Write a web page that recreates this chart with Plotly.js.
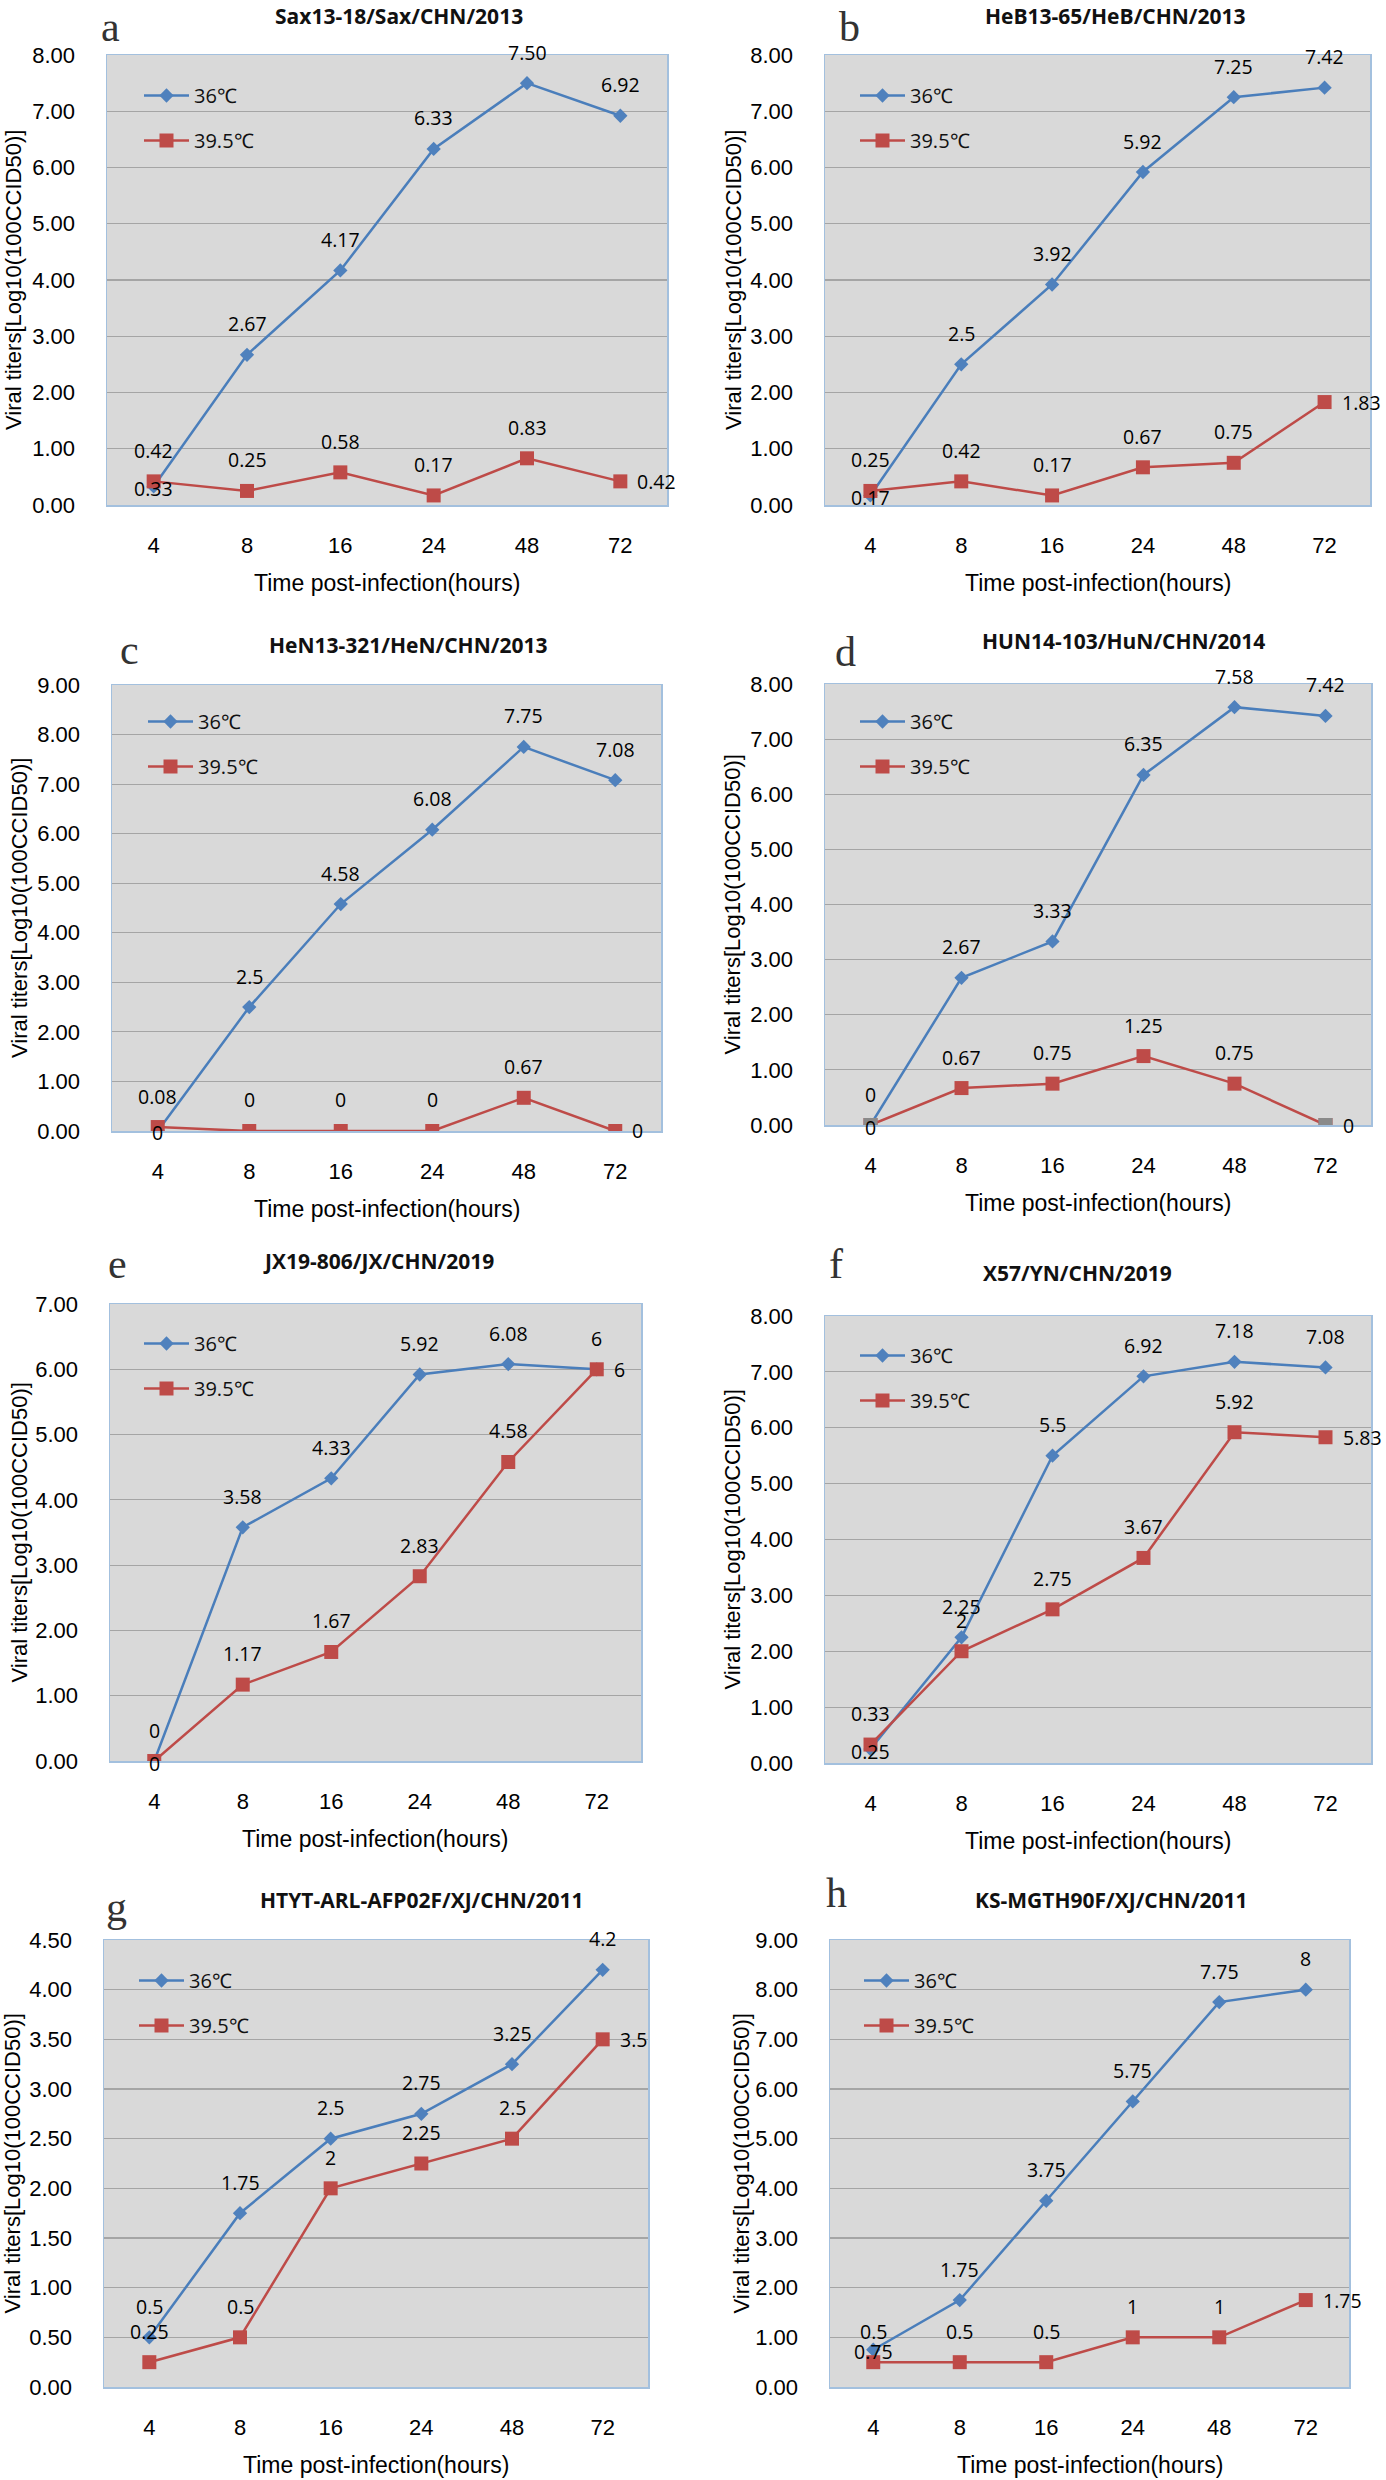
<!DOCTYPE html>
<html><head><meta charset="utf-8">
<script src="https://cdn.plot.ly/plotly-3.0.1.min.js"></script>
<style>html,body{margin:0;padding:0;background:#fff}#chart{width:1386px;height:2480px}</style>
</head><body><div id="chart"></div>
<script>
// ---------- data ----------
const hours = ['4','8','16','24','48','72'];
const seriesNames = ['36℃','39.5℃'];
const strainNames = ['Sax13-18/Sax/CHN/2013','HeB13-65/HeB/CHN/2013','HeN13-321/HeN/CHN/2013','HUN14-103/HuN/CHN/2014',
  'JX19-806/JX/CHN/2019','X57/YN/CHN/2019','HTYT-ARL-AFP02F/XJ/CHN/2011','KS-MGTH90F/XJ/CHN/2011'];
const panelLetters = ['a','b','c','d','e','f','g','h'];
const xTitle = 'Time post-infection(hours)';
const yTitle = 'Viral titers[Log10(100CCID50)]';

const a36  = [0.33, 2.67, 4.17, 6.33, 7.50, 6.92];
const a395 = [0.42, 0.25, 0.58, 0.17, 0.83, 0.42];
const b36  = [0.17, 2.5, 3.92, 5.92, 7.25, 7.42];
const b395 = [0.25, 0.42, 0.17, 0.67, 0.75, 1.83];
const c36  = [0, 2.5, 4.58, 6.08, 7.75, 7.08];
const c395 = [0.08, 0, 0, 0, 0.67, 0];
const d36  = [0, 2.67, 3.33, 6.35, 7.58, 7.42];
const d395 = [0, 0.67, 0.75, 1.25, 0.75, 0];
const e36  = [0, 3.58, 4.33, 5.92, 6.08, 6];
const e395 = [0, 1.17, 1.67, 2.83, 4.58, 6];
const f36  = [0.25, 2.25, 5.5, 6.92, 7.18, 7.08];
const f395 = [0.33, 2, 2.75, 3.67, 5.92, 5.83];
const g36  = [0.5, 1.75, 2.5, 2.75, 3.25, 4.2];
const g395 = [0.25, 0.5, 2, 2.25, 2.5, 3.5];
const h36  = [0.75, 1.75, 3.75, 5.75, 7.75, 8];
const h395 = [0.5, 0.5, 0.5, 1, 1, 1.75];
const yMaxes = [8, 8, 9, 8, 7, 8, 4.5, 9];

// ---------- styling / placement ----------
const W = 1386, H = 2480;
const BLUE = '#4a7ebb', RED = '#be4b48', GRAY = '#8a8a8a';
const panels = [
 {s36:a36, s395:a395, L:107, R:667,  T:55,   B:505,  tx:399,  ty:16,   lx:111, ly:27,   ytx:13,  legX:137, legY:94,   fixed:true,  p36:'caaaaa', p395:'aaaaar'},
 {s36:b36, s395:b395, L:825, R:1370, T:55,   B:505,  tx:1115, ty:16,   lx:849, ly:27,   ytx:733, legX:853, legY:94,   fixed:false, p36:'caaaaa', p395:'aaaaar'},
 {s36:c36, s395:c395, L:112, R:661,  T:685,  B:1131, tx:408,  ty:645,  lx:129, ly:650,  ytx:19,  legX:141, legY:720,  fixed:false, p36:'caaaaa', p395:'aaaaar'},
 {s36:d36, s395:d395, L:825, R:1371, T:684,  B:1125, tx:1123, ty:641,  lx:845, ly:652,  ytx:732, legX:853, legY:720,  fixed:false, p36:'caaaaa', p395:'aaaaar', grayIdx:[0,5]},
 {s36:e36, s395:e395, L:110, R:641,  T:1304, B:1761, tx:378,  ty:1261, lx:117, ly:1264, ytx:19,  legX:137, legY:1342, fixed:false, p36:'caaaaa', p395:'aaaaar'},
 {s36:f36, s395:f395, L:825, R:1371, T:1316, B:1763, tx:1077, ty:1273, lx:836, ly:1264, ytx:732, legX:853, legY:1354, fixed:false, p36:'caaaaa', p395:'aaaaar'},
 {s36:g36, s395:g395, L:104, R:648,  T:1940, B:2387, tx:422,  ty:1900, lx:116, ly:1907, ytx:12,  legX:132, legY:1979, fixed:false, p36:'aaaaaa', p395:'aaaaar'},
 {s36:h36, s395:h395, L:830, R:1349, T:1940, B:2387, tx:1111, ty:1900, lx:836, ly:1893, ytx:741, legX:857, legY:1979, fixed:false, p36:'caaaaa', p395:'aaaaar'}
];

const px = v => v / W;
const py = v => 1 - v / H;
const tickFont = {family:'Liberation Sans, Arial, sans-serif', size:22, color:'#000'};
const xTitleFont = {family:'Liberation Sans, Arial, sans-serif', size:23, color:'#000'};
const labelFont = {family:'Open Sans, sans-serif', size:19.5, color:'#000'};

const traces = [];
const annotations = [];
const layout = {
  width: W, height: H, margin:{l:0,r:0,t:0,b:0},
  paper_bgcolor:'#fff', plot_bgcolor:'#d9d9d9',
  showlegend:true, annotations: annotations
};

panels.forEach((p, k) => {
  const n = k + 1;
  const sx = n === 1 ? '' : String(n);
  const xa = 'x' + sx, ya = 'y' + sx, lg = 'legend' + sx;
  const ymax = yMaxes[k];
  layout['xaxis' + sx] = {
    domain:[px(p.L), px(p.R)], anchor: ya, type:'category',
    categoryorder:'array', categoryarray: hours, range:[-0.5, 5.5],
    showgrid:false, zeroline:false, showline:true, mirror:true,
    linecolor:'#a3c0de', linewidth:1.5,
    ticks:'outside', ticklen:20, tickcolor:'rgba(0,0,0,0)', tickfont: tickFont
  };
  layout['yaxis' + sx] = {
    domain:[py(p.B), py(p.T)], anchor: xa, range:[0, ymax],
    tick0:0, dtick: ymax === 4.5 ? 0.5 : 1, tickformat:'.2f',
    showgrid:true, gridcolor:'#a5a5a5', gridwidth:1.2, zeroline:false,
    showline:true, mirror:true, linecolor:'#a3c0de', linewidth:1.5,
    ticks:'outside', ticklen:26, tickcolor:'rgba(0,0,0,0)', tickfont: tickFont
  };
  layout[lg] = {
    x: px(p.legX + 2), y: py(p.legY - 18), xanchor:'left', yanchor:'top',
    bgcolor:'rgba(0,0,0,0)', borderwidth:0, traceorder:'grouped', tracegroupgap:16,
    itemwidth:45,
    font:{family:'Open Sans, sans-serif', size:20, color:'#111'}
  };

  traces.push({
    type:'scatter', mode:'lines+markers', name: seriesNames[0], x: hours, y: p.s36,
    xaxis: xa, yaxis: ya, legend: lg, legendgroup: 'g36_' + n,
    line:{color:BLUE, width:2.5}, marker:{symbol:'diamond', size:11, color:'#4f81bd'}
  });
  traces.push({
    type:'scatter', mode:'lines+markers', name: seriesNames[1], x: hours, y: p.s395,
    xaxis: xa, yaxis: ya, legend: lg, legendgroup: 'g395_' + n,
    line:{color:RED, width:2.5}, marker:{symbol:'square', size:14, color: RED}
  });
  if (p.grayIdx) {
    traces.push({
      type:'scatter', mode:'markers', name: seriesNames[1], showlegend:false,
      x: p.grayIdx.map(i => hours[i]), y: p.grayIdx.map(i => p.s395[i]),
      xaxis: xa, yaxis: ya, marker:{symbol:'square', size:14, color: GRAY}
    });
  }

  // data labels
  const fmt = v => p.fixed ? v.toFixed(2) : String(v);
  [[p.s36, p.p36], [p.s395, p.p395]].forEach(([vals, pos]) => {
    vals.forEach((v, i) => {
      const c = pos[i];
      const a = {xref: xa, yref: ya, x: i, y: v, text: fmt(v), showarrow:false, font: labelFont,
                 xanchor:'center', yanchor:'middle', yshift: 31};
      if (c === 'c') { a.yshift = -2; }
      if (c === 'r') { a.xanchor = 'left'; a.xshift = 15; a.yshift = 0; }
      annotations.push(a);
    });
  });

  // chart title
  annotations.push({xref:'paper', yref:'paper', x: px(p.tx), y: py(p.ty), text: strainNames[k],
    showarrow:false, xanchor:'center', yanchor:'middle',
    font:{family:'Open Sans, sans-serif', size:21, color:'#111', weight:'bold'}});
  // panel letter
  annotations.push({xref:'paper', yref:'paper', x: px(p.lx), y: py(p.ly), text: panelLetters[k],
    showarrow:false, xanchor:'center', yanchor:'middle',
    font:{family:'Liberation Serif, Times New Roman, serif', size:42, color:'#333'}});
  // x axis title
  annotations.push({xref:'paper', yref:'paper', x: px((p.L + p.R) / 2), y: py(p.B + 78), text: xTitle,
    showarrow:false, xanchor:'center', yanchor:'middle', font: xTitleFont});
  // y axis title
  annotations.push({xref:'paper', yref:'paper', x: px(p.ytx), y: py((p.T + p.B) / 2), text: yTitle,
    showarrow:false, xanchor:'center', yanchor:'middle', textangle:-90, font: tickFont});
});

Plotly.newPlot('chart', traces, layout, {staticPlot:true, displayModeBar:false});
</script>
</body></html>
